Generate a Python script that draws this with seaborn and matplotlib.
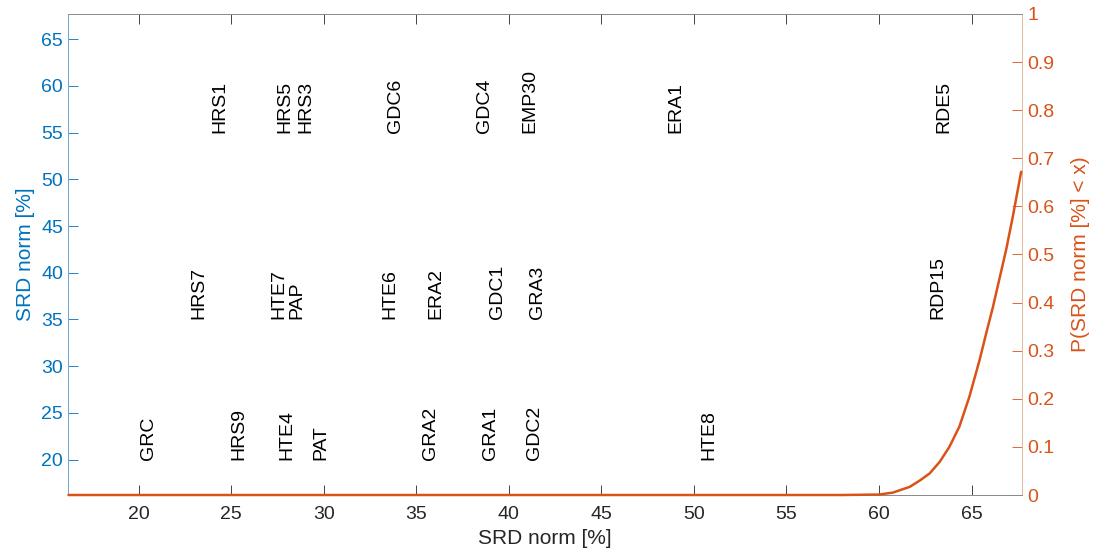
import matplotlib
matplotlib.use("Agg")
import matplotlib.pyplot as plt
import seaborn as sns
import pandas as pd

# ---- data ----
top_labels = ["HRS1", "HRS5", "HRS3", "GDC6", "GDC4", "EMP30", "ERA1", "RDE5"]
top_x = [24.37, 27.90, 29.04, 33.85, 38.68, 41.14, 49.00, 63.52]
top_y = 55

mid_labels = ["HRS7", "HTE7", "PAP", "HTE6", "ERA2", "GDC1", "GRA3", "RDP15"]
mid_x = [23.23, 27.58, 28.52, 33.55, 36.04, 39.38, 41.55, 63.20]
mid_y = 35

bot_labels = ["GRC", "HRS9", "HTE4", "PAT", "GRA2", "GRA1", "GDC2", "HTE8"]
bot_x = [20.54, 25.43, 28.00, 29.85, 35.77, 39.00, 41.40, 50.78]
bot_y = 20

cdf_x = [16.2, 30.0, 45.0, 58.0, 60.0, 60.75, 61.66, 62.2, 62.74, 63.28, 63.8,
         64.34, 64.88, 65.43, 65.79, 66.15, 66.51, 66.87, 67.23, 67.68]
cdf_p = [0.0, 0.0, 0.0, 0.0, 0.001, 0.005, 0.017, 0.030, 0.045, 0.069, 0.100,
         0.142, 0.204, 0.280, 0.336, 0.390, 0.450, 0.510, 0.579, 0.672]

x_ticks = [20, 25, 30, 35, 40, 45, 50, 55, 60, 65]
y_ticks = [20, 25, 30, 35, 40, 45, 50, 55, 60, 65]
p_ticks = [0, 0.1, 0.2, 0.3, 0.4, 0.5, 0.6, 0.7, 0.8, 0.9, 1]
p_tick_labels = ["0", "0.1", "0.2", "0.3", "0.4", "0.5", "0.6", "0.7", "0.8", "0.9", "1"]

xlim = (16.2, 67.7)

BLUE = "#0072BD"
ORANGE = "#D95319"
DARK = "#262626"

sns.set_style("white")
plt.rcParams["font.family"] = ["Liberation Sans", "DejaVu Sans"]

fig = plt.figure(figsize=(10.99, 5.57), dpi=100)
ax = fig.add_axes([0.0623, 0.1113, 0.8672, 0.8636])
ax2 = ax.twinx()

# left axis: labels
for labels, xs, yv in [(top_labels, top_x, top_y), (mid_labels, mid_x, mid_y), (bot_labels, bot_x, bot_y)]:
    for lab, xv in zip(labels, xs):
        ax.text(xv, yv, lab, rotation=90, ha="center", va="bottom",
                fontsize=14, color="black")

ax.set_xlim(*xlim)
ax.set_ylim(*xlim)
ax.set_xticks(x_ticks)
ax.set_yticks(y_ticks)
ax.set_xlabel("SRD norm [%]", fontsize=15, color=DARK, labelpad=4)
ax.set_ylabel("SRD norm [%]", fontsize=15, color=BLUE, labelpad=4)

ax.tick_params(axis="x", direction="in", length=7, width=0.6, colors=DARK,
               labelsize=14, top=True, bottom=True, pad=8, labelcolor=DARK)
ax.tick_params(axis="y", direction="in", length=7, width=0.6, colors=BLUE,
               labelsize=14, left=True, right=False, pad=4, labelcolor=BLUE)

# right axis: CDF curve
df = pd.DataFrame({"x": cdf_x, "p": cdf_p})
sns.lineplot(data=df, x="x", y="p", ax=ax2, color=ORANGE, linewidth=1.8,
             clip_on=False, zorder=5)
ax2.set_ylim(0, 1)
ax2.set_xlim(*xlim)
ax2.set_yticks(p_ticks)
ax2.set_yticklabels(p_tick_labels)
ax2.set_ylabel("P(SRD norm [%] < x)", fontsize=15, color=ORANGE, labelpad=12)
ax2.set_xlabel("")
ax2.tick_params(axis="y", direction="in", length=7, width=0.6, colors=ORANGE,
                labelsize=14, right=True, left=False, pad=4, labelcolor=ORANGE)

for a in (ax, ax2):
    for s in a.spines.values():
        s.set_linewidth(0.7)
    a.spines["top"].set_color("#8c8c8c")
    a.spines["bottom"].set_color("#8c8c8c")
    a.spines["left"].set_color("#6fa6d3")
    a.spines["right"].set_color("#e2b89f")

fig.savefig("out.png", dpi=100)
